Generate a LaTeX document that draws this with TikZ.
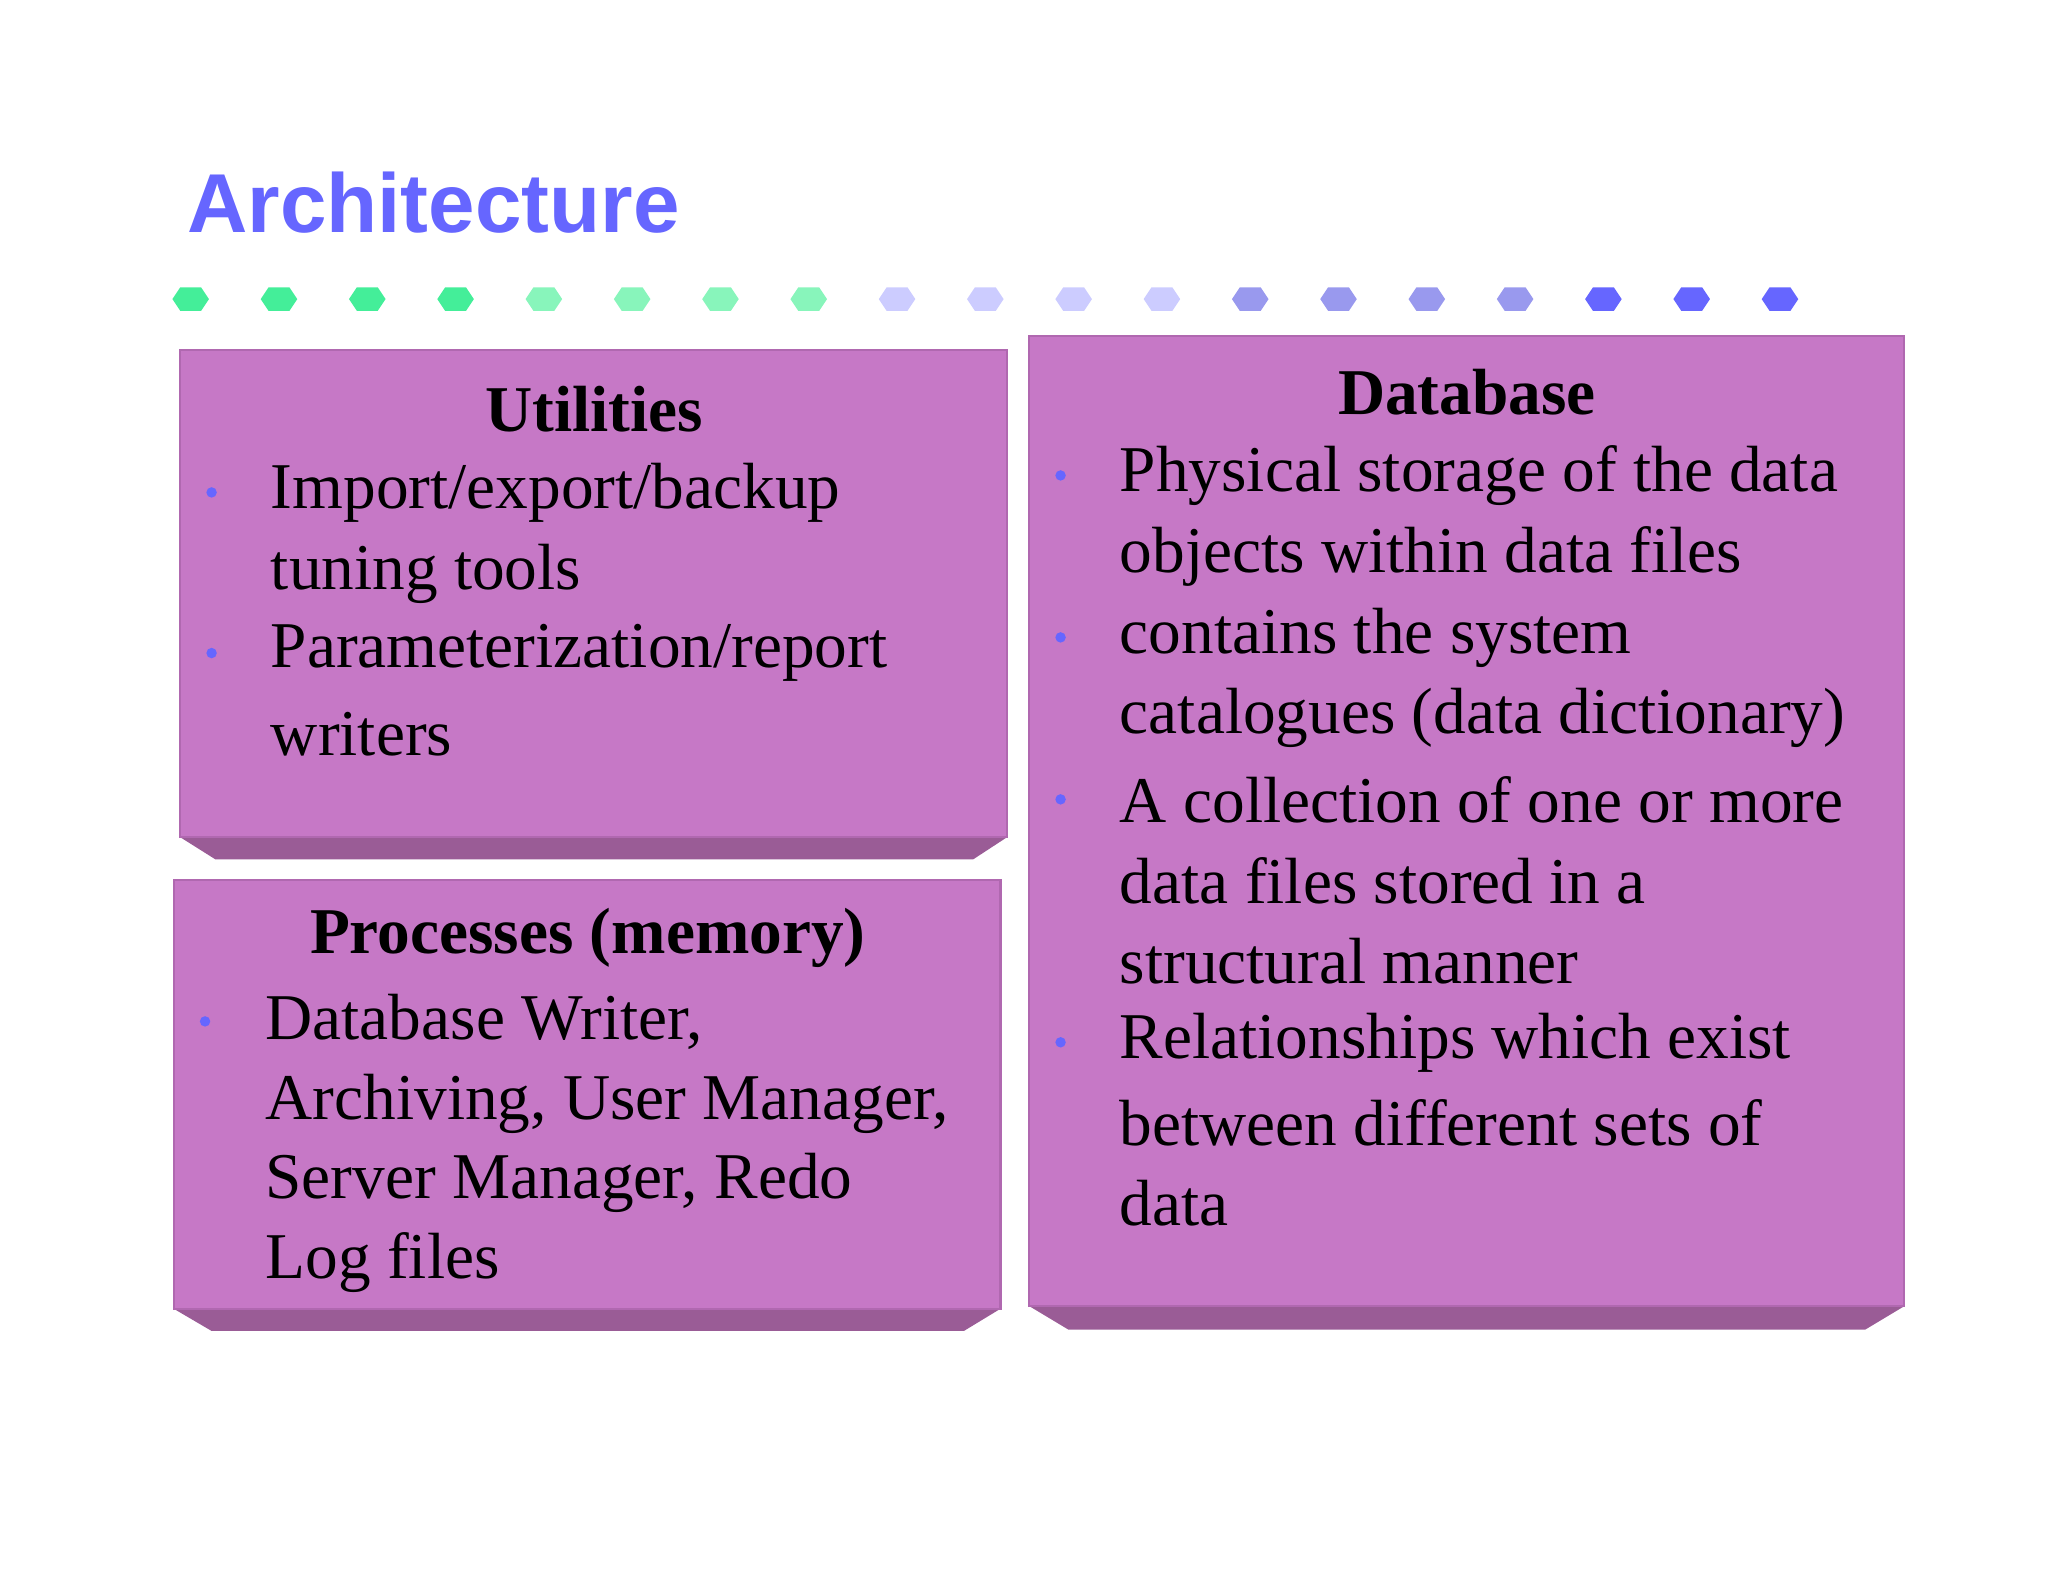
\documentclass[tikz,border=0pt]{standalone}
\usepackage{fontspec}
\setmainfont{Liberation Serif}
\newfontfamily\titlefont{Liberation Sans}
\begin{document}
\begin{tikzpicture}[x=0.5pt,y=-0.5pt,
  box/.style={fill=boxc,draw=boxd,line width=0.8pt},
  bev/.style={fill=bevc,draw=none},
  body/.style={anchor=west,inner sep=0pt,font=\fontsize{25}{30}\selectfont},
  head/.style={inner sep=0pt,font=\fontsize{25}{30}\selectfont\bfseries},
  bul/.style={fill=bulc,draw=none},
  dotc/.style={fill=#1,draw=none}]
\definecolor{boxc}{HTML}{C678C6}
\definecolor{boxd}{HTML}{B068B0}
\definecolor{bevc}{HTML}{9A5C96}
\definecolor{bulc}{HTML}{6666FF}
\definecolor{tc}{HTML}{6666FF}
\definecolor{d1}{HTML}{44EE99}
\definecolor{d2}{HTML}{88F5BB}
\definecolor{d3}{HTML}{CCCCFF}
\definecolor{d4}{HTML}{9999EE}
\definecolor{d5}{HTML}{6666FF}
\useasboundingbox (0,0) rectangle (1568,1210);
\node[anchor=west,inner sep=0pt,text=tc,font=\titlefont\fontsize{32}{36}\selectfont\bfseries] (title) at (143,155) {Architecture};
% dots
\foreach \i in {0,...,18}{
  \pgfmathsetmacro\xx{146+67.6*\i}
  \ifnum\i<4 \def\cc{d1}\else\ifnum\i<8 \def\cc{d2}\else\ifnum\i<12 \def\cc{d3}\else\ifnum\i<16 \def\cc{d4}\else\def\cc{d5}\fi\fi\fi\fi
  \fill[\cc] (\xx-14,229) -- (\xx-8,220) -- (\xx+8,220) -- (\xx+14,229) -- (\xx+8,238) -- (\xx-8,238) -- cycle;
}
% Utilities
\fill[bev] (138,641) -- (165,658) -- (745,658) -- (771,641) -- cycle;
\draw[box] (138,268) rectangle (771,641);
\node[head] (ut) at (455,313) {Utilities};
\foreach \y/\t in {377/{Import/export/backup},439/{tuning tools},500/{Parameterization/report},562/{writers}}
  \node[body] at (207,\y) {\t};
\foreach \y in {377,500} \fill[bul] (162,\y) circle (4);
% Processes
\fill[bev] (133,1002) -- (162,1019) -- (738,1019) -- (766,1002) -- cycle;
\draw[box] (133,674) rectangle (766,1002);
\node[head] (pr) at (450,718) {Processes (memory)};
\foreach \y/\t in {782/{Database Writer,},845/{Archiving, User Manager,},906/{Server Manager, Redo},967/{Log files}}
  \node[body] at (203,\y) {\t};
\fill[bul] (157,782) circle (4);
% Database
\fill[bev] (788,1000) -- (818,1018) -- (1428,1018) -- (1458,1000) -- cycle;
\draw[box] (788,257) rectangle (1458,1000);
\node[head] (db) at (1123,300) {Database};
\foreach \y/\t in {364/{Physical storage of the data},426/{objects within data files},488/{contains the system},550/{catalogues (data dictionary)},612/{A collection of one or more},674/{data files stored in a},736/{structural manner},798/{Relationships which exist},860/{between different sets of},921/{data}}
  \node[body] at (857,\y) {\t};
\foreach \y in {364,488,612,798} \fill[bul] (812,\y) circle (4);
\end{tikzpicture}
\end{document}
